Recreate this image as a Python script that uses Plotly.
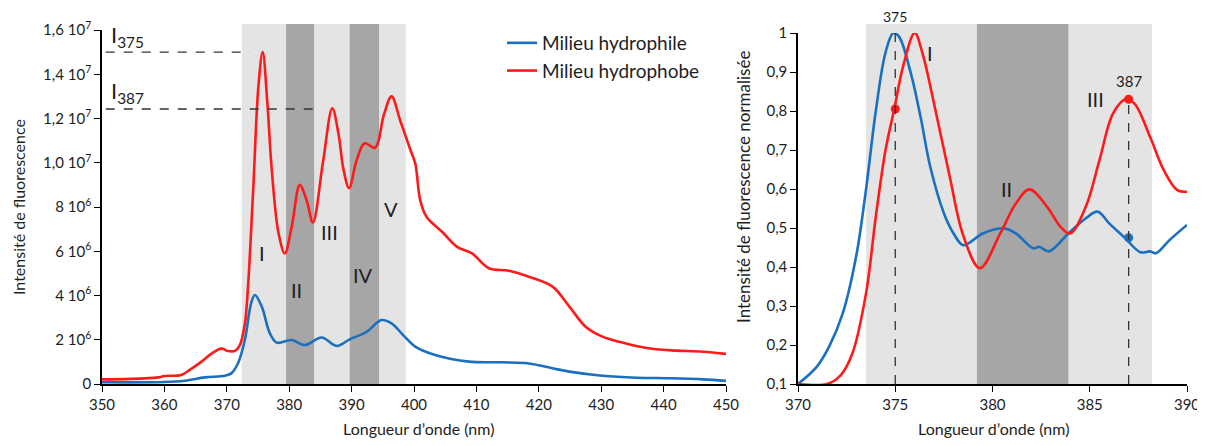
import plotly.graph_objects as go

# ---- left panel : raw spectra (wavelength nm / intensity) ----
wl_red = [350, 354.7, 359, 360, 362.7, 364, 365.9, 367.5, 369.1, 370.2, 371.3, 372.1, 372.9, 373.4,
          374.25, 375.05, 375.75, 376.5, 377.2, 378.3, 379.3, 380.4, 381.7, 382.8, 383.8, 385.4,
          386.9, 387.9, 388.7, 389.6, 390.8, 392.1, 393.75, 395.2, 396.4, 397.8, 399.4, 400.2, 401.0,
          402.0, 404.5, 406.9, 409.3, 412.0, 415.2, 418.4, 422.2, 424.9, 427.5, 430.2, 432.9, 435.6,
          438.8, 442.0, 446.3, 450]
int_red = [2.1e5, 2.3e5, 3.0e5, 3.6e5, 4.1e5, 6.3e5, 1.0e6, 1.36e6, 1.6e6, 1.49e6, 1.5e6, 1.76e6, 2.74e6, 4.4e6,
           8.9e6, 1.34e7, 1.5e7, 1.27e7, 9.7e6, 6.8e6, 5.9e6, 7.1e6, 9.0e6, 8.3e6, 7.3e6, 1.0e7,
           1.246e7, 1.13e7, 9.7e6, 8.85e6, 1.01e7, 1.088e7, 1.068e7, 1.22e7, 1.30e7, 1.19e7, 1.06e7, 9.97e6, 8.3e6,
           7.56e6, 6.88e6, 6.2e6, 5.9e6, 5.23e6, 5.12e6, 4.85e6, 4.4e6, 3.5e6, 2.59e6, 2.14e6, 1.91e6, 1.72e6,
           1.57e6, 1.51e6, 1.46e6, 1.36e6]

wl_blue = [350, 360, 363.3, 366.5, 369.7, 370.7, 371.8, 372.9, 373.9, 374.5, 375.6, 376.9, 378.0, 380.4,
           382.5, 385.2, 387.6, 389.7, 392.4, 394.8, 396.4, 398.3, 400.2, 403.4, 408.8, 414.1, 418.4,
           422.2, 424.9, 430.2, 435.6, 440.9, 446.3, 450]
int_blue = [7.7e4, 9e4, 1.5e5, 3.0e5, 3.75e5, 4.8e5, 9.4e5, 2.0e6, 3.65e6, 4.02e6, 3.5e6, 2.29e6, 1.87e6, 1.99e6,
            1.76e6, 2.1e6, 1.72e6, 2.02e6, 2.36e6, 2.89e6, 2.74e6, 2.2e6, 1.69e6, 1.31e6, 1.01e6, 9.8e5, 9.3e5,
            7.1e5, 5.6e5, 3.75e5, 2.85e5, 2.6e5, 2.1e5, 1.4e5]

left_ticks = [0, 2e6, 4e6, 6e6, 8e6, 1.0e7, 1.2e7, 1.4e7, 1.6e7]
left_ticktext = ["0", "2 10<sup>6</sup>", "4 10<sup>6</sup>", "6 10<sup>6</sup>", "8 10<sup>6</sup>",
                 "1,0 10<sup>7</sup>", "1,2 10<sup>7</sup>", "1,4 10<sup>7</sup>", "1,6 10<sup>7</sup>"]
left_bands_light = [372.4, 398.7]
left_bands_dark = [[379.5, 384.0], [389.7, 394.4]]
i375, i387 = 1.5e7, 1.243e7
left_labels = ["I", "II", "III", "IV", "V"]
left_labels_x = [375.6, 381.1, 386.5, 391.9, 396.3]
left_labels_y = [5.9e6, 4.25e6, 6.88e6, 4.93e6, 7.9e6]

# ---- right panel : normalised spectra ----
wl_blue_n = [370.0, 370.96, 371.6, 372.3, 373.0, 373.5, 374.0, 374.5, 374.9, 375.2, 375.8, 376.3,
             376.8, 377.5, 378.0, 378.5, 379.5, 380.6, 381.2, 382.1, 382.4, 382.9, 383.9, 384.8, 385.4,
             386.0, 386.8, 387.6, 388.1, 388.4, 389.1, 390.0]
norm_blue = [0.10, 0.144, 0.196, 0.281, 0.43, 0.60, 0.80, 0.95, 1.0, 0.99, 0.897, 0.785,
             0.657, 0.538, 0.486, 0.456, 0.486, 0.499, 0.486, 0.448, 0.452, 0.44, 0.486, 0.525, 0.542,
             0.512, 0.475, 0.438, 0.44, 0.435, 0.469, 0.508]
wl_red_n = [370.0, 371.5, 372.2, 372.8, 373.5, 374.0, 374.5, 374.95, 375.4, 376.0, 376.4, 377.1, 377.8,
            378.5, 379.35, 380.4, 381.2, 381.9, 382.8, 383.5, 384.0, 384.8, 385.5, 386.2, 386.85, 387.3,
            388.1, 388.8, 389.5, 390.0]
norm_red = [0.10, 0.10, 0.123, 0.179, 0.333, 0.529, 0.70, 0.805, 0.914, 1.0, 0.948, 0.794, 0.632,
            0.48, 0.397, 0.486, 0.563, 0.599, 0.555, 0.503, 0.486, 0.555, 0.674, 0.794, 0.83, 0.819,
            0.734, 0.649, 0.597, 0.593]
peak_x = [375, 387]
blue_marker_y = [1.01, 0.475]
red_marker_y = [0.805, 0.83]
right_bands_light = [373.5, 388.2]
right_bands_dark = [379.2, 383.9]
right_labels = ["I", "II", "III"]
right_labels_x = [376.8, 380.7, 385.3]
right_labels_y = [0.95, 0.60, 0.83]

BLUE = "#1a70bf"
RED = "#ff1a1a"
LIGHT = "#e4e4e4"
DARK = "#a6a6a6"
FONT = "Lato"
TXT = "#1e1e1e"

# page has an 8px body margin, so the figure is drawn from (8, 8)
OFF = 8
W, H = 1205 - OFF, 446 - 2 * OFF
def px(x): return (x - OFF) / W
def py(y): return (H - (y - OFF)) / H

line_style = dict(width=2.6, shape="spline", smoothing=1.0)

fig = go.Figure()
fig.add_trace(go.Scatter(x=wl_blue, y=int_blue, mode="lines", name="Milieu hydrophile",
                         line=dict(color=BLUE, **line_style)))
fig.add_trace(go.Scatter(x=wl_red, y=int_red, mode="lines", name="Milieu hydrophobe",
                         line=dict(color=RED, **line_style)))

fig.add_trace(go.Scatter(x=wl_blue_n, y=norm_blue, mode="lines", showlegend=False,
                         line=dict(color=BLUE, **line_style), xaxis="x2", yaxis="y2"))
fig.add_trace(go.Scatter(x=wl_red_n, y=norm_red, mode="lines", showlegend=False,
                         line=dict(color=RED, **line_style), xaxis="x2", yaxis="y2"))
fig.add_trace(go.Scatter(x=peak_x, y=blue_marker_y, mode="markers", showlegend=False, cliponaxis=False,
                         marker=dict(color=BLUE, size=9), xaxis="x2", yaxis="y2"))
fig.add_trace(go.Scatter(x=peak_x, y=red_marker_y, mode="markers", showlegend=False, cliponaxis=False,
                         marker=dict(color=RED, size=9), xaxis="x2", yaxis="y2"))

shapes = []
band_top = py(24)
shapes.append(dict(type="rect", xref="x", yref="paper", x0=left_bands_light[0], x1=left_bands_light[1],
                   y0=py(384), y1=band_top, fillcolor=LIGHT, line_width=0, layer="below"))
for b in left_bands_dark:
    shapes.append(dict(type="rect", xref="x", yref="paper", x0=b[0], x1=b[1],
                       y0=py(384), y1=band_top, fillcolor=DARK, line_width=0, layer="below"))
shapes.append(dict(type="rect", xref="x2", yref="paper", x0=right_bands_light[0], x1=right_bands_light[1],
                   y0=py(384), y1=band_top, fillcolor=LIGHT, line_width=0, layer="below"))
shapes.append(dict(type="rect", xref="x2", yref="paper", x0=right_bands_dark[0], x1=right_bands_dark[1],
                   y0=py(384), y1=band_top, fillcolor=DARK, line_width=0, layer="below"))
dash = dict(color="#333333", width=1.3, dash="dash")
shapes.append(dict(type="line", xref="x", yref="y", x0=350.6, x1=373.7, y0=i375, y1=i375, line=dash))
shapes.append(dict(type="line", xref="x", yref="y", x0=350.6, x1=385.1, y0=i387, y1=i387, line=dash))
shapes.append(dict(type="line", xref="x2", yref="y2", x0=peak_x[0], x1=peak_x[0], y0=0.1,
                   y1=blue_marker_y[0], line=dash))
shapes.append(dict(type="line", xref="x2", yref="y2", x0=peak_x[1], x1=peak_x[1], y0=0.1,
                   y1=red_marker_y[1], line=dash))

ann = []
ann.append(dict(x=px(109), y=py(53), xref="paper", yref="paper", xanchor="left", yanchor="bottom",
                text="I<sub>375</sub>", showarrow=False, font=dict(size=22, color=TXT)))
ann.append(dict(x=px(109), y=py(109), xref="paper", yref="paper", xanchor="left", yanchor="bottom",
                text="I<sub>387</sub>", showarrow=False, font=dict(size=22, color=TXT)))
for t, x, y in zip(left_labels, left_labels_x, left_labels_y):
    ann.append(dict(x=x, y=y, xref="x", yref="y", text=t, showarrow=False, font=dict(size=20, color=TXT)))
for t, x, y in zip(right_labels, right_labels_x, right_labels_y):
    ann.append(dict(x=x, y=y, xref="x2", yref="y2", text=t, showarrow=False, font=dict(size=20, color=TXT)))
ann.append(dict(x=peak_x[0], y=py(17), xref="x2", yref="paper", text="375", showarrow=False,
                xanchor="center", yanchor="middle", font=dict(size=14, color=TXT)))
ann.append(dict(x=peak_x[1], y=py(81), xref="x2", yref="paper", text="387", showarrow=False,
                xanchor="center", yanchor="middle", font=dict(size=15, color=TXT)))
ann.append(dict(x=px(418), y=py(428), xref="paper", yref="paper", text="Longueur d’onde (nm)",
                xanchor="center", yanchor="middle", showarrow=False, font=dict(size=16, color=TXT)))
ann.append(dict(x=px(993), y=py(428), xref="paper", yref="paper", text="Longueur d’onde (nm)",
                xanchor="center", yanchor="middle", showarrow=False, font=dict(size=16, color=TXT)))
ann.append(dict(x=px(18), y=py(207), xref="paper", yref="paper", text="Intensité de fluorescence",
                xanchor="center", yanchor="middle", textangle=-90, showarrow=False,
                font=dict(size=16, color=TXT)))
ann.append(dict(x=px(743), y=py(187), xref="paper", yref="paper", text="Intensité de fluorescence normalisée",
                xanchor="center", yanchor="middle", textangle=-90, showarrow=False,
                font=dict(size=17, color=TXT)))

axis_common = dict(showgrid=False, zeroline=False, showline=True, linecolor="black", linewidth=1.5,
                   ticks="outside", ticklen=6, tickwidth=1.3, tickcolor="black", automargin=False,
                   ticklabeloverflow="allow", tickfont=dict(size=15, color=TXT, family=FONT))

fig.update_layout(
    width=W, height=H,
    margin=dict(l=0, r=0, t=0, b=0, autoexpand=False),
    paper_bgcolor="white", plot_bgcolor="rgba(0,0,0,0)",
    font=dict(family=FONT, color=TXT),
    xaxis=dict(domain=[px(102), px(726)], range=[350, 450], tickvals=list(range(350, 451, 10)),
               anchor="y", **axis_common),
    yaxis=dict(domain=[py(384), py(30)], range=[0, 1.6e7], tickvals=left_ticks, ticktext=left_ticktext,
               anchor="x", **axis_common),
    xaxis2=dict(domain=[px(798), px(1187)], range=[370, 390], tickvals=[370, 375, 380, 385, 390],
                anchor="y2", **axis_common),
    yaxis2=dict(domain=[py(384), py(33)], range=[0.1, 1.0],
                tickvals=[0.1, 0.2, 0.3, 0.4, 0.5, 0.6, 0.7, 0.8, 0.9, 1.0],
                ticktext=["0,1", "0,2", "0,3", "0,4", "0,5", "0,6", "0,7", "0,8", "0,9", "1"],
                anchor="x2", **axis_common),
    shapes=shapes,
    annotations=ann,
    legend=dict(x=px(502), y=py(24), xanchor="left", yanchor="top", bgcolor="rgba(0,0,0,0)",
                font=dict(size=19, color=TXT, family=FONT), tracegroupgap=0, itemwidth=30),
)

fig.write_html("out.html")
